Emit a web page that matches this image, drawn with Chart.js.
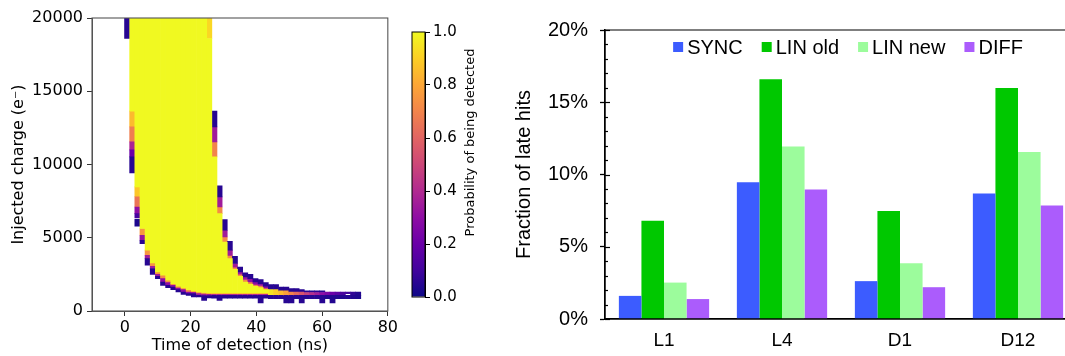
<!DOCTYPE html>
<html>
<head>
<meta charset="utf-8">
<title>Late hits</title>
<script src="https://cdn.jsdelivr.net/npm/chart.js@4.4.1/dist/chart.umd.min.js"></script>
<style>
    html, body { margin: 0; padding: 0; background: #fff; overflow: hidden; }
    body { width: 1065px; height: 356px; position: relative; }
    canvas { position: absolute; top: 0; }
    #heat { left: 0; }
    #cbar { left: 400px; }
    #bars { left: 500px; }
</style>
</head>
<body>
<canvas id="heat" width="400" height="356"></canvas>
<canvas id="cbar" width="100" height="356"></canvas>
<canvas id="bars" width="577" height="356"></canvas>
<script>
(function () {
    'use strict';

    // ---- left panel: detection probability vs time and charge ----
    var timeNs = [0.68, 2.24, 3.81, 5.37, 6.93, 8.49, 10.06, 11.62, 13.18, 14.74, 16.31, 17.87,
        19.43, 20.99, 22.56, 24.12, 25.68, 27.24, 28.81, 30.37, 31.93, 33.49, 35.06, 36.62,
        38.18, 39.74, 41.31, 42.87, 44.43, 45.99, 47.56, 49.12, 50.68, 52.24, 53.81, 55.37,
        56.93, 58.49, 60.06, 61.62, 63.18, 64.74, 66.31, 67.87, 69.43, 70.99];

    // fully efficient (p = 1) part of each time bin, in electrons
    var yellowLow = [null, 13640, 8470, 5630, 4150, 3280, 2660, 2440, 2100, 1870, 1690, 1570,
        1460, 1370, 1300, 1260, 1230, 1230, 1230, 1230, 1230, 1230, 1230, 1230,
        1230, 1230, 1230, 1230, null, null, null, null, null, null, null, null,
        null, null, null, null, null, null, null, null, null, null];
    var yellowHigh = [null, 20000, 20000, 20000, 20000, 20000, 20000, 20000, 20000, 20000, 20000, 20000,
        20000, 20000, 20000, 20000, 18600, 10520, 6650, 4710, 3580, 2850, 2370, 1980,
        1820, 1690, 1600, 1460, null, null, null, null, null, null, null, null,
        null, null, null, null, null, null, null, null, null, null];

    // partial cells: [time bin, [q low, q high, probability], ...]
    var leftEdge = [
        [0, [18610, 20000, 0.05]],
        [1, [12570, 13640, 0.85], [11540, 12570, 0.68], [11000, 11540, 0.38], [10520, 11000, 0.2], [9430, 10520, 0.05]],
        [2, [7800, 8470, 0.88], [7100, 7800, 0.65], [6650, 7100, 0.3], [6350, 6650, 0.12], [5790, 6250, 0.03]],
        [3, [5170, 5630, 0.75], [4830, 5170, 0.32], [4600, 4830, 0.05]],
        [4, [3800, 4150, 0.75], [3580, 3800, 0.35], [3120, 3580, 0.05]],
        [5, [3050, 3280, 0.75], [2900, 3050, 0.35], [2500, 2900, 0.05]],
        [6, [2510, 2660, 0.75], [2370, 2510, 0.35], [2210, 2370, 0.05]],
        [7, [2210, 2440, 0.72], [1980, 2210, 0.3], [1750, 1980, 0.05]],
        [8, [1940, 2100, 0.75], [1750, 1940, 0.3], [1600, 1750, 0.05]],
        [9, [1750, 1870, 0.75], [1640, 1750, 0.3], [1460, 1640, 0.05]],
        [10, [1570, 1690, 0.75], [1460, 1570, 0.3], [1300, 1460, 0.05]],
        [11, [1460, 1570, 0.75], [1300, 1460, 0.3], [1140, 1300, 0.05]],
        [12, [1300, 1460, 0.75], [1190, 1300, 0.3], [1070, 1190, 0.05]],
        [13, [1280, 1370, 0.78], [1190, 1280, 0.35], [960, 1190, 0.05]],
        [14, [1190, 1300, 0.78], [1070, 1190, 0.35], [960, 1070, 0.05]],
        [15, [1160, 1260, 0.8], [1050, 1160, 0.35], [730, 1050, 0.05]],
        [16, [18600, 20000, 0.92], [1140, 1230, 0.8], [1050, 1140, 0.35], [890, 1050, 0.05]]
    ];
    var rightEdge = [
        [17, [10520, 11540, 0.7], [11540, 12570, 0.35], [12570, 13640, 0.05]],
        [18, [6650, 7100, 0.72], [7100, 7790, 0.35], [7790, 8540, 0.05]],
        [19, [4710, 5050, 0.72], [5050, 5510, 0.35], [5510, 6240, 0.05]],
        [20, [3580, 3800, 0.72], [3800, 4150, 0.35], [4150, 4760, 0.05]],
        [21, [2850, 3000, 0.72], [3000, 3240, 0.35], [3240, 3740, 0.05]],
        [22, [2370, 2510, 0.72], [2510, 2660, 0.35], [2660, 3000, 0.05]],
        [23, [1980, 2150, 0.72], [2150, 2320, 0.35], [2320, 2600, 0.05]],
        [24, [1820, 1980, 0.72], [1980, 2210, 0.3], [2210, 2510, 0.05]],
        [25, [1690, 1820, 0.7], [1820, 1980, 0.3], [1980, 2210, 0.05]],
        [26, [1600, 1740, 0.68], [1740, 1870, 0.3], [1870, 2150, 0.05]],
        [27, [1460, 1570, 0.65], [1570, 1690, 0.28], [1690, 1940, 0.05]]
    ];
    var bottomEdge = [
        [17, [1140, 1230, 0.82], [1070, 1140, 0.4], [880, 1070, 0.05]],
        [18, [1140, 1230, 0.82], [1070, 1140, 0.4], [730, 1070, 0.05]],
        [19, [1140, 1230, 0.82], [1070, 1140, 0.4], [880, 1070, 0.05]],
        [20, [1140, 1230, 0.82], [1070, 1140, 0.4], [880, 1070, 0.05]],
        [21, [1140, 1230, 0.82], [1070, 1140, 0.4], [880, 1070, 0.05]],
        [22, [1140, 1230, 0.82], [1070, 1140, 0.4], [880, 1070, 0.05]],
        [23, [1140, 1230, 0.82], [1070, 1140, 0.4], [880, 1070, 0.05]],
        [24, [1140, 1230, 0.82], [1070, 1140, 0.4], [880, 1070, 0.05]],
        [25, [1140, 1230, 0.82], [1070, 1140, 0.4], [880, 1070, 0.05]],
        [26, [1140, 1230, 0.8], [1070, 1140, 0.4], [550, 1070, 0.05]],
        [27, [1140, 1230, 0.8], [1070, 1140, 0.4], [880, 1070, 0.05]]
    ];
    var tailCells = [
        [28, [1460, 1800, 0.05], [1070, 1460, 0.95], [850, 1070, 0.05]],
        [29, [1460, 1800, 0.05], [1070, 1460, 0.9], [850, 1070, 0.05]],
        [30, [1370, 1640, 0.05], [1070, 1370, 0.85], [850, 1070, 0.05]],
        [31, [1370, 1640, 0.05], [1070, 1370, 0.78], [550, 1070, 0.05]],
        [32, [1300, 1530, 0.05], [1070, 1300, 0.7], [550, 1070, 0.05]],
        [33, [1300, 1530, 0.05], [1070, 1300, 0.62], [850, 1070, 0.05]],
        [34, [1300, 1460, 0.05], [1070, 1300, 0.55], [550, 1070, 0.05]],
        [35, [1260, 1370, 0.05], [1070, 1260, 0.48], [850, 1070, 0.05]],
        [36, [1260, 1370, 0.05], [1070, 1260, 0.42], [850, 1070, 0.05]],
        [37, [1260, 1370, 0.05], [1070, 1260, 0.36], [850, 1070, 0.05]],
        [38, [1260, 1370, 0.05], [1070, 1260, 0.3], [550, 1070, 0.05]],
        [39, [1070, 1300, 0.25], [850, 1070, 0.04]],
        [40, [1070, 1300, 0.2], [550, 1070, 0.04]],
        [41, [1070, 1300, 0.16], [850, 1070, 0.04]],
        [42, [1070, 1300, 0.12], [850, 1070, 0.04]],
        [43, [1190, 1300, 0.1], [850, 1070, 0.04]],
        [44, [1070, 1300, 0.07], [850, 1070, 0.04]],
        [45, [1070, 1300, 0.04], [850, 1070, 0.03]]
    ];

    var heatXTicks = [0, 20, 40, 60, 80];
    var heatYTicks = [0, 5000, 10000, 15000, 20000];
    var cbarTicks = [0, 0.2, 0.4, 0.6, 0.8, 1.0];

    // ---- right panel: late hit fraction per layer ----
    var categories = ['L1', 'L4', 'D1', 'D12'];
    var seriesNames = ['SYNC', 'LIN old', 'LIN new', 'DIFF'];
    var seriesColors = ['#3c5cff', '#00c800', '#9cfc9c', '#ab5cfc'];
    var sync = [1.6, 9.47, 2.62, 8.68];
    var linOld = [6.8, 16.6, 7.47, 15.98];
    var linNew = [2.52, 11.93, 3.86, 11.56];
    var diff = [1.38, 8.97, 2.2, 7.86];
    var pctMajor = [0, 5, 10, 15, 20];
    var pctMinor = [1, 2, 3, 4, 6, 7, 8, 9, 11, 12, 13, 14, 16, 17, 18, 19];

    var plasmaStops = ['#0d0887', '#41049d', '#6a00a8', '#8f0da4', '#b12a90', '#cc4778',
        '#e16462', '#f2844b', '#fca636', '#fcce25', '#f0f921'];

    function hexRgb(h) {
        return [parseInt(h.substr(1, 2), 16), parseInt(h.substr(3, 2), 16), parseInt(h.substr(5, 2), 16)];
    }

    function plasma(p) {
        var f = Math.max(0, Math.min(1, p)) * 10;
        var i = Math.min(9, Math.floor(f));
        var u = f - i;
        var a = hexRgb(plasmaStops[i]), b = hexRgb(plasmaStops[i + 1]);
        return 'rgb(' + a.map(function (c, k) { return Math.round(c + (b[k] - c) * u); }).join(',') + ')';
    }

    var yellowCells = [];
    timeNs.forEach(function (t, i) {
        if (yellowLow[i] !== null) yellowCells.push({ x: t, y: [yellowLow[i], yellowHigh[i]] });
    });

    var partCells = [];
    leftEdge.concat(rightEdge, bottomEdge, tailCells).forEach(function (row) {
        var t = timeNs[row[0]];
        row.slice(1).forEach(function (c) {
            partCells.push({ x: t, y: [c[0], c[1]], p: c[2] });
        });
    });

    var DEJAVU = "'DejaVu Sans', sans-serif";
    var ARIAL = "'Liberation Sans', Arial, sans-serif";

    // axes box like matplotlib spines
    var frame = {
        id: 'frame',
        afterDraw: function (chart, args, opts) {
            var a = chart.chartArea, ctx = chart.ctx;
            ctx.save();
            ctx.strokeStyle = opts.color || '#000';
            ctx.lineWidth = opts.width || 1;
            ctx.strokeRect(a.left, a.top, a.right - a.left, a.bottom - a.top);
            ctx.restore();
        }
    };

    function fixTicks(values) {
        return function (scale) {
            scale.ticks = values.map(function (v) { return { value: v }; });
        };
    }

    function plain(v) { return String(v); }

    new Chart(document.getElementById('heat'), {
        type: 'bar',
        data: {
            datasets: [{
                data: yellowCells,
                backgroundColor: plasmaStops[10],
                grouped: false,
                barPercentage: 1,
                categoryPercentage: 1
            }, {
                data: partCells,
                backgroundColor: function (c) { return c.raw ? plasma(c.raw.p) : plasmaStops[0]; },
                grouped: false,
                barPercentage: 1,
                categoryPercentage: 1
            }]
        },
        options: {
            responsive: false,
            animation: false,
            devicePixelRatio: 1,
            events: [],
            layout: { padding: { top: 18, right: 5, left: 0, bottom: 0 } },
            plugins: {
                legend: { display: false },
                tooltip: { enabled: false },
                frame: { color: '#555', width: 1.1 }
            },
            scales: {
                x: {
                    type: 'linear',
                    min: -10,
                    max: 80,
                    offset: false,
                    afterBuildTicks: fixTicks(heatXTicks),
                    afterFit: function (s) { s.height = 45; },
                    grid: { offset: false, drawOnChartArea: false, tickLength: 5, tickColor: '#333' },
                    border: { color: '#555' },
                    ticks: { color: '#000', padding: 2, font: { family: DEJAVU, size: 16 }, callback: plain },
                    title: {
                        display: true,
                        text: 'Time of detection (ns)',
                        color: '#000',
                        padding: { top: 0, bottom: 1 },
                        font: { family: DEJAVU, size: 16 }
                    }
                },
                y: {
                    min: 0,
                    max: 20000,
                    afterBuildTicks: fixTicks(heatYTicks),
                    afterFit: function (s) { s.width = 92; },
                    grid: { drawOnChartArea: false, tickLength: 5, tickColor: '#333' },
                    border: { color: '#555' },
                    ticks: { color: '#000', padding: 4, font: { family: DEJAVU, size: 16 }, callback: plain },
                    title: {
                        display: true,
                        text: 'Injected charge (e\u207B)',
                        color: '#000',
                        padding: { top: 9, bottom: 0 },
                        font: { family: DEJAVU, size: 16 }
                    }
                }
            }
        },
        plugins: [frame]
    });

    // colour bar
    var cbarLabel = {
        id: 'cbarLabel',
        afterDraw: function (chart) {
            var ctx = chart.ctx, a = chart.chartArea;
            ctx.save();
            ctx.translate(a.right + 46, (a.top + a.bottom) / 2 - 22);
            ctx.rotate(-Math.PI / 2);
            ctx.font = '13px ' + DEJAVU;
            ctx.fillStyle = '#000';
            ctx.textAlign = 'center';
            ctx.textBaseline = 'middle';
            ctx.fillText('Probability of being detected', 0, 0);
            ctx.restore();
        }
    };

    new Chart(document.getElementById('cbar'), {
        type: 'bar',
        data: {
            labels: ['p'],
            datasets: [{
                data: [[0, 1]],
                barPercentage: 1,
                categoryPercentage: 1,
                inflateAmount: 0,
                backgroundColor: function (c) {
                    var area = c.chart.chartArea;
                    if (!area) return plasmaStops[5];
                    var g = c.chart.ctx.createLinearGradient(0, area.bottom, 0, area.top);
                    plasmaStops.forEach(function (col, i) { g.addColorStop(i / 10, col); });
                    return g;
                }
            }]
        },
        options: {
            responsive: false,
            animation: false,
            devicePixelRatio: 1,
            events: [],
            layout: { padding: { top: 32, left: 12, bottom: 59, right: 0 } },
            plugins: {
                legend: { display: false },
                tooltip: { enabled: false },
                frame: { color: '#000', width: 1 }
            },
            scales: {
                x: { display: false },
                y: {
                    position: 'right',
                    min: 0,
                    max: 1,
                    afterBuildTicks: fixTicks(cbarTicks),
                    afterFit: function (s) { s.width = 75; },
                    grid: { drawOnChartArea: false, tickLength: 5, tickColor: '#000' },
                    border: { color: '#000' },
                    ticks: {
                        color: '#000',
                        padding: 3,
                        font: { family: DEJAVU, size: 15 },
                        callback: function (v) { return v.toFixed(1); }
                    }
                }
            }
        },
        plugins: [frame, cbarLabel]
    });

    // bar chart legend drawn inside the axes, like the original
    var barLegend = {
        id: 'barLegend',
        afterDraw: function (chart) {
            var ctx = chart.ctx, a = chart.chartArea;
            var box = 10, gap = 4, sep = 19;
            ctx.save();
            ctx.font = '20px ' + ARIAL;
            var widths = chart.data.datasets.map(function (ds) { return ctx.measureText(ds.label).width; });
            var total = widths.reduce(function (s, w) { return s + box + gap + w; }, 0) + sep * (widths.length - 1);
            var x = (a.left + a.right) / 2 + 7 - total / 2;
            var y = a.top + 17;
            ctx.textBaseline = 'middle';
            chart.data.datasets.forEach(function (ds, i) {
                ctx.fillStyle = ds.backgroundColor;
                ctx.fillRect(x, y - box / 2, box, box);
                ctx.fillStyle = '#000';
                ctx.fillText(ds.label, x + box + gap, y + 1);
                x += box + gap + widths[i] + sep;
            });
            ctx.restore();
        }
    };

    // inward minor/major ticks on the percentage axis
    var innerTicks = {
        id: 'innerTicks',
        afterDraw: function (chart) {
            var ctx = chart.ctx, y = chart.scales.y, left = chart.chartArea.left;
            ctx.save();
            ctx.strokeStyle = '#000';
            ctx.lineWidth = 1.2;
            pctMajor.concat(pctMinor).forEach(function (v) {
                var len = pctMajor.indexOf(v) !== -1 ? 5 : 3;
                var py = Math.round(y.getPixelForValue(v)) + 0.5;
                ctx.beginPath();
                ctx.moveTo(left, py);
                ctx.lineTo(left + len, py);
                ctx.stroke();
            });
            ctx.restore();
        }
    };

    var seriesData = [sync, linOld, linNew, diff];

    new Chart(document.getElementById('bars'), {
        type: 'bar',
        data: {
            labels: categories,
            datasets: seriesNames.map(function (name, i) {
                return {
                    label: name,
                    data: seriesData[i],
                    backgroundColor: seriesColors[i],
                    barPercentage: 1,
                    categoryPercentage: 0.765
                };
            })
        },
        options: {
            responsive: false,
            animation: false,
            devicePixelRatio: 1,
            events: [],
            layout: { padding: { top: 30, left: 0, right: 0, bottom: 0 } },
            plugins: {
                legend: { display: false },
                tooltip: { enabled: false },
                frame: { color: '#000', width: 1 }
            },
            scales: {
                x: {
                    afterFit: function (s) { s.height = 37; },
                    grid: { display: false, drawTicks: false },
                    border: { color: '#000', width: 1.5 },
                    ticks: { color: '#000', padding: 10, font: { family: ARIAL, size: 19 } }
                },
                y: {
                    min: 0,
                    max: 20,
                    afterBuildTicks: fixTicks(pctMajor),
                    afterFit: function (s) { s.width = 105; },
                    grid: { drawOnChartArea: false, tickLength: 5, tickColor: '#000', tickWidth: 1.3 },
                    border: { color: '#000', width: 1.5 },
                    ticks: {
                        color: '#000',
                        padding: 12,
                        font: { family: ARIAL, size: 20 },
                        callback: function (v) { return v + '%'; }
                    },
                    title: {
                        display: true,
                        text: 'Fraction of late hits',
                        color: '#000',
                        padding: { top: 12, bottom: 0 },
                        font: { family: ARIAL, size: 20 }
                    }
                }
            }
        },
        plugins: [frame, innerTicks, barLegend]
    });
})();
</script>
</body>
</html>
